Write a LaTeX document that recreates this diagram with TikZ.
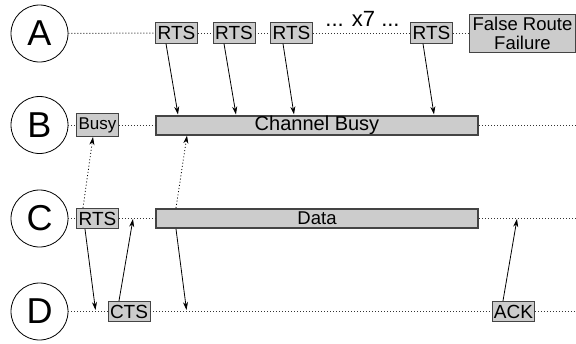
\documentclass[tikz,border=0pt]{standalone}
\usepackage{fontspec}
\setmainfont{Liberation Sans}
\usetikzlibrary{arrows.meta}
\definecolor{boxfill}{HTML}{CCCCCC}
\definecolor{boxline}{HTML}{444444}
\definecolor{dotc}{HTML}{333333}
\begin{document}
\begin{tikzpicture}[x=1pt,y=-1pt,
 station/.style={circle,draw,line width=0.8pt,minimum size=57pt,inner sep=0pt,font=\fontsize{36}{36}\selectfont},
 msg/.style={draw=boxline,fill=boxfill,line width=0.9pt,minimum width=42pt,minimum height=20.5pt,inner sep=0pt,font=\fontsize{19}{19}\selectfont},
 longbox/.style={draw=boxline,fill=boxfill,line width=2pt,minimum width=322pt,minimum height=19pt,inner sep=0pt,font=\fontsize{18.5}{18.5}\selectfont},
 tl/.style={dotc,line width=1pt,dash pattern=on 1pt off 2pt},
 arr/.style={-{Stealth[length=8pt,width=5pt,inset=2.5pt]},line width=0.8pt},
 darr/.style={arr,dash pattern=on 1pt off 2.2pt}
]
\useasboundingbox (0,0) rectangle (576,343);

% stations
\node[station] (A) at (39.5,33.5) {A};
\node[station] (B) at (39.5,125) {B};
\node[station] (C) at (39.5,218.5) {C};
\node[station] (D) at (39.5,311.5) {D};

% row A
\node[msg] (r1) at (176.5,33) {RTS};
\node[msg] (r2) at (234,33) {RTS};
\node[msg] (r3) at (291.5,33) {RTS};
\node[msg] (r4) at (431.5,33) {RTS};
\node[anchor=base,inner sep=0pt,font=\fontsize{22}{22}\selectfont] (x7) at (362.5,26) {... x7 ...};
\node[msg,minimum width=106pt,minimum height=38pt,align=center,font=\fontsize{18.5}{19}\selectfont] (frf) at (522.5,33) {False Route\\Failure};

% row B
\node[msg,minimum height=23pt,font=\fontsize{17}{17}\selectfont] (busy) at (97.5,125) {Busy};
\node[longbox,font=\fontsize{20}{20}\selectfont] (cb) at (317,125) {Channel Busy};
\coordinate (Bend) at (576,125);

% row C
\node[msg] (crts) at (97.5,218.5) {RTS};
\node[longbox] (data) at (317,218.5) {Data};
\coordinate (Cend) at (576,218.5);

% row D
\node[msg] (cts) at (129,311.5) {CTS};
\node[msg] (ack) at (513.5,311.5) {ACK};
\coordinate (Dend) at (576,311.5);

% timelines
\draw[tl] (A) -- (r1);
\draw[tl] (r1) -- (r2);
\draw[tl] (r2) -- (r3);
\draw[tl] (r3) -- (r4);
\draw[tl] (r4) -- (frf);
\draw[tl] (B) -- (busy);
\draw[tl] (busy) -- (cb);
\draw[tl] (cb) -- (Bend);
\draw[tl] (C) -- (crts);
\draw[tl] (crts) -- (data);
\draw[tl] (data) -- (Cend);
\draw[tl] (D) -- (cts);
\draw[tl] (cts) -- (ack);
\draw[tl] (ack) -- (Dend);

% arrow end points on timelines
\coordinate (dRTS) at (95.5,310);
\coordinate (cCTS) at (133,219);
\coordinate (dData) at (186.5,310);
\coordinate (cACK) at (517,219);

% arrows
\draw[arr] ([xshift=-10.5pt]r1.south) -- ([xshift=23pt]cb.north west);
\draw[arr] ([xshift=-10pt]r2.south) -- ([xshift=81pt]cb.north west);
\draw[arr] ([xshift=-8.5pt]r3.south) -- ([xshift=139pt]cb.north west);
\draw[arr] ([xshift=-8.5pt]r4.south) -- ([xshift=279pt]cb.north west);
\draw[arr] ([xshift=-12.5pt]crts.south) -- (dRTS);
\draw[arr] ([xshift=-10pt]cts.north) -- (cCTS);
\draw[arr] ([xshift=21pt]data.south west) -- (dData);
\draw[arr] ([xshift=-10.5pt]ack.north) -- (cACK);
\draw[darr] ([xshift=-14.5pt]crts.north) -- ([xshift=-4.5pt]busy.south);
\draw[darr] ([xshift=21pt]data.north west) -- ([xshift=32pt]cb.south west);
\end{tikzpicture}
\end{document}
